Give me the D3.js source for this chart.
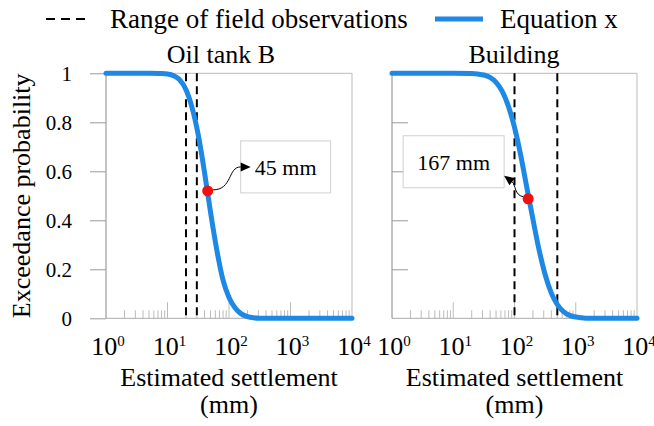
<!DOCTYPE html>
<html>
<head>
<meta charset="utf-8">
<script src="https://cdn.jsdelivr.net/npm/d3@7"></script>
<style>
  body { margin: 0; background: #fff; }
  svg text { font-family: "Liberation Serif", "Times New Roman", serif; fill: #000; }
</style>
</head>
<body>
<div id="chart"></div>
<script>
// Values
var panelTitles = ["Oil tank B", "Building"];
var decadeTicks = [1, 10, 100, 1000, 10000];
var probTicks = [0, 0.2, 0.4, 0.6, 0.8, 1];

// exceedance curves (settlement in mm, probability)
var tankSettlement = [1, 5, 7.9, 10, 12.6, 15.8, 20, 25.1, 31.6, 39.8, 50.1, 63.1, 79.4, 100, 126, 158, 200, 251, 316, 1000, 10000];
var tankProb = [1, 1, 0.999, 0.997, 0.990, 0.973, 0.933, 0.860, 0.749, 0.599, 0.433, 0.281, 0.159, 0.085, 0.042, 0.018, 0.007, 0.002, 0, 0, 0];

var buildingSettlement = [1, 10, 20, 25.1, 31.6, 39.8, 50.1, 63.1, 79.4, 100, 126, 158, 200, 251, 316, 398, 501, 631, 794, 1000, 1259, 1585, 10000];
var buildingProb = [1, 1, 0.999, 0.997, 0.993, 0.983, 0.963, 0.926, 0.866, 0.779, 0.667, 0.537, 0.404, 0.281, 0.179, 0.104, 0.056, 0.027, 0.012, 0.005, 0.002, 0, 0];

// range of field observations (mm)
var tankRange = [20, 30];
var buildingRange = [100, 500];

// highlighted points
var tankPoint = [45, 0.52];
var buildingPoint = [167, 0.488];
var pointLabels = ["45 mm", "167 mm"];

var width = 654, height = 426;
var blue = "#1e88e5";

var svg = d3.select("#chart").append("svg")
  .attr("width", width)
  .attr("height", height);

var yTop = 73.3, yBottom = 318.3;
var y = d3.scaleLinear().domain([0, 1]).range([yBottom, yTop]);

var panels = [
  { x0: 106, x1: 352, title: panelTitles[0], tx: 221, xs: tankSettlement, ps: tankProb,
    range: tankRange, pt: tankPoint, label: pointLabels[0], labels: true,
    box: { dx: 33, dy: -50, w: 90, h: 52 }, arrow: "right" },
  { x0: 392, x1: 637, title: panelTitles[1], tx: 514, xs: buildingSettlement, ps: buildingProb,
    range: buildingRange, pt: buildingPoint, label: pointLabels[1], labels: false,
    box: { dx: -125, dy: -63, w: 101, h: 52 }, arrow: "left" }
];

panels.forEach(function(p, i) {
  var x = d3.scaleLog().domain([1, 1e4]).range([p.x0, p.x1]);
  var g = svg.append("g").attr("class", "panel-" + i);

  // frame
  g.append("line").attr("x1", p.x0).attr("x2", p.x1).attr("y1", yTop).attr("y2", yTop)
    .attr("stroke", "#bbb");
  g.append("line").attr("x1", p.x1).attr("x2", p.x1).attr("y1", yTop).attr("y2", yBottom)
    .attr("stroke", "#bbb");
  g.append("line").attr("x1", p.x0).attr("x2", p.x1).attr("y1", yBottom).attr("y2", yBottom)
    .attr("stroke", "#aaa");
  g.append("line").attr("x1", p.x0).attr("x2", p.x0).attr("y1", yTop).attr("y2", yBottom)
    .attr("stroke", "#888");

  // y axis
  if (p.labels) {
    var yAxis = d3.axisLeft(y).tickValues(probTicks).tickSize(16).tickPadding(18)
      .tickFormat(function(d) { return d === 0 || d === 1 ? d : d.toFixed(1); });
    var ya = g.append("g").attr("transform", "translate(" + p.x0 + ",0)").call(yAxis);
    ya.select(".domain").remove();
    ya.selectAll(".tick line").attr("stroke", "#999");
    ya.selectAll(".tick text").style("font-size", "21px")
      .style("font-family", "'Liberation Serif', 'Times New Roman', serif");
  } else {
    var yAxisR = d3.axisRight(y).tickValues([0.2, 0.4, 0.6, 0.8]).tickSize(16).tickFormat("");
    var yr = g.append("g").attr("transform", "translate(" + p.x0 + ",0)").call(yAxisR);
    yr.select(".domain").remove();
    yr.selectAll(".tick line").attr("stroke", "#999");
  }

  // x minor / major ticks pointing up
  var xt = x.ticks().filter(function(d) { return d > 1 && d < 1e4; });
  g.selectAll(".xtick").data(xt).enter().append("line")
    .attr("class", "xtick")
    .attr("x1", function(d) { return x(d); })
    .attr("x2", function(d) { return x(d); })
    .attr("y1", yBottom)
    .attr("y2", function(d) {
      var l = Math.log10(d);
      return Math.abs(l - Math.round(l)) < 1e-9 ? yBottom - 16 : yBottom - 8;
    })
    .attr("stroke", "#bbb");

  // x tick labels 10^n
  var lab = g.selectAll(".xlab").data(decadeTicks).enter().append("text")
    .attr("class", "xlab")
    .attr("x", function(d) { return x(d) + 2; })
    .attr("y", 355)
    .attr("text-anchor", "middle")
    .style("font-size", "26px");
  lab.append("tspan").text("10");
  lab.append("tspan").attr("dy", -9).style("font-size", "15px")
    .text(function(d) { return Math.round(Math.log10(d)); });

  // x title
  g.append("text").attr("x", (p.x0 + p.x1) / 2).attr("y", 386)
    .attr("text-anchor", "middle").style("font-size", "26px").text("Estimated settlement");
  g.append("text").attr("x", (p.x0 + p.x1) / 2).attr("y", 413)
    .attr("text-anchor", "middle").style("font-size", "26px").text("(mm)");

  // panel title
  g.append("text").attr("x", p.tx).attr("y", 63)
    .attr("text-anchor", "middle").style("font-size", "26px").text(p.title);

  // field observation range
  g.selectAll(".range").data(p.range).enter().append("line")
    .attr("class", "range")
    .attr("x1", function(d) { return x(d); })
    .attr("x2", function(d) { return x(d); })
    .attr("y1", yTop).attr("y2", yBottom)
    .attr("stroke", "#000").attr("stroke-width", 2)
    .attr("stroke-dasharray", "8,5");

  // curve
  var line = d3.line()
    .x(function(d) { return x(d[0]); })
    .y(function(d) { return y(d[1]); })
    .curve(d3.curveMonotoneX);
  g.append("path")
    .datum(d3.zip(p.xs, p.ps))
    .attr("d", line)
    .attr("fill", "none")
    .attr("stroke", blue)
    .attr("stroke-width", 5)
    .attr("stroke-linecap", "round");

  // annotation
  var px = x(p.pt[0]), py = y(p.pt[1]);
  var bx = px + p.box.dx, by = py + p.box.dy;
  g.append("rect").attr("x", bx).attr("y", by).attr("width", p.box.w).attr("height", p.box.h)
    .attr("fill", "#fff").attr("stroke", "#d0d0d0");
  g.append("text").attr("x", bx + p.box.w / 2).attr("y", by + p.box.h / 2 + 8)
    .attr("text-anchor", "middle").style("font-size", "22px").text(p.label);

  var path, tip, base;
  if (p.arrow === "right") {
    base = [px + 33, py - 24];
    tip = [px + 43, py - 24];
    path = "M" + (px + 5) + "," + (py - 1) + " C" + (px + 25) + "," + (py - 1) + " " +
      (px + 20) + "," + (py - 24) + " " + base[0] + "," + base[1];
  } else {
    base = [px - 16, py - 17];
    tip = [px - 24, py - 23];
    path = "M" + (px - 5) + "," + (py - 2) + " C" + (px - 14) + "," + (py - 4) + " " +
      (px - 12) + "," + (py - 13) + " " + base[0] + "," + base[1];
  }
  g.append("path").attr("d", path).attr("fill", "none").attr("stroke", "#000").attr("stroke-width", 1);
  var ang = Math.atan2(tip[1] - base[1], tip[0] - base[0]);
  var hl = 10, hw = 4.5;
  var bxp = tip[0] - hl * Math.cos(ang), byp = tip[1] - hl * Math.sin(ang);
  var head = [
    [tip[0], tip[1]],
    [bxp + hw * Math.sin(ang), byp - hw * Math.cos(ang)],
    [bxp - hw * Math.sin(ang), byp + hw * Math.cos(ang)]
  ];
  g.append("path").attr("d", "M" + head.join("L") + "Z").attr("fill", "#000");

  g.append("circle").attr("cx", px).attr("cy", py).attr("r", 5.5).attr("fill", "#f01010");
});

// y title
svg.append("text")
  .attr("transform", "translate(30," + (yTop + yBottom) / 2 + ") rotate(-90)")
  .attr("text-anchor", "middle")
  .style("font-size", "26px")
  .text("Exceedance probability");

// legend
var legend = svg.append("g").attr("class", "legend");
legend.append("line").attr("x1", 46).attr("x2", 85).attr("y1", 19).attr("y2", 19)
  .attr("stroke", "#000").attr("stroke-width", 2).attr("stroke-dasharray", "9,6");
legend.append("text").attr("x", 110).attr("y", 28).style("font-size", "27px")
  .text("Range of field observations");
legend.append("line").attr("x1", 435).attr("x2", 483).attr("y1", 19).attr("y2", 19)
  .attr("stroke", blue).attr("stroke-width", 5);
legend.append("text").attr("x", 500).attr("y", 28).style("font-size", "27px")
  .text("Equation x");
</script>
</body>
</html>
